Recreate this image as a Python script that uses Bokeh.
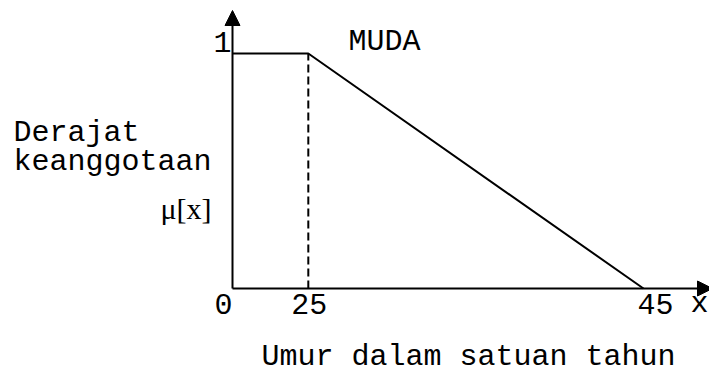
import numpy as np
from bokeh.plotting import figure
from bokeh.models import Range1d, Arrow, NormalHead
from bokeh.core.properties import value
from bokeh.embed import file_html
from bokeh.resources import INLINE

# Membership function of the fuzzy set "MUDA" (young) over age in years
ages = [0, 25, 45]
membership = [1, 1, 0]
tick_ages = [0, 25, 45]
tick_labels = ["0", "25", "45"]
set_name = "MUDA"
y_title = ["Derajat", "keanggotaan"]
y_symbol = "μ[x]"
x_symbol = "x"
x_title = "Umur dalam satuan tahun"

# small horizontal nudges (px) for the age tick labels
tick_nudge = [-9, 1, 12]

# The age axis is drawn schematically: the 0-25 stretch is compressed
AGE_BREAKS = [0, 25, 45]
DRAW_BREAKS = [0, 8.3, 45]


def sx(a):
    return np.interp(a, AGE_BREAKS, DRAW_BREAKS)


W, H = 709, 372
PX = 411 / 45      # pixels per drawing unit (horizontal)
PY = 235           # pixels per membership unit (vertical)
X0, Y0 = 232, 288  # origin, in pixels from the top-left corner


def px(x_pix):
    return (x_pix - X0) / PX


def py(y_pix):
    return (Y0 - y_pix) / PY


p = figure(width=W, height=H,
           x_range=Range1d(px(0), px(W)), y_range=Range1d(py(H), py(0)),
           x_axis_type=None, y_axis_type=None,
           output_backend="svg", toolbar_location=None, min_border=0)
p.outline_line_color = None
p.background_fill_color = "white"

INK = "black"
MONO = value("Liberation Mono")
SERIF = value("Liberation Serif")
FS = "30px"
TXT = dict(text_font=MONO, text_font_size=FS, text_color=INK, text_baseline="middle")

# axes with arrow heads
p.add_layout(Arrow(end=NormalHead(size=15, fill_color=INK, line_color=INK, line_width=1),
                   x_start=0, y_start=0, x_end=0, y_end=py(10),
                   line_color=INK, line_width=2))
p.add_layout(Arrow(end=NormalHead(size=15, fill_color=INK, line_color=INK, line_width=1),
                   x_start=0, y_start=0, x_end=px(712), y_end=0,
                   line_color=INK, line_width=2))

# membership curve
p.line(sx(ages), membership, line_color=INK, line_width=2)

# dashed drop line from the shoulder of the curve
p.segment(x0=[sx(ages[1])], y0=[0], x1=[sx(ages[1])], y1=[membership[1]],
          line_color=INK, line_width=2, line_dash="8 4")

# tick labels on the age axis
p.text(x=[sx(a) + n / PX for a, n in zip(tick_ages, tick_nudge)],
       y=[py(303)] * len(tick_ages), text=tick_labels,
       text_align="center", **TXT)
p.text(x=[px(708)], y=[py(303)], text=[x_symbol], text_align="right", **TXT)

# top value of the membership axis
p.text(x=[px(231)], y=[py(41.5)], text=[str(max(membership))],
       text_align="right", **TXT)

# set name
p.text(x=[px(348)], y=[py(41.5)], text=[set_name], text_align="left", **TXT)

# vertical axis title
p.text(x=[px(13), px(13)], y=[py(132.5), py(161)], text=y_title,
       text_align="left", **TXT)
p.text(x=[px(211)], y=[py(208)], text=[y_symbol],
       text_font=SERIF, text_font_size="30px", text_color=INK,
       text_align="right", text_baseline="middle")

# horizontal axis title
p.text(x=[px(468)], y=[py(356)], text=[x_title], text_align="center", **TXT)

open("out.html", "w").write(file_html(p, INLINE))
